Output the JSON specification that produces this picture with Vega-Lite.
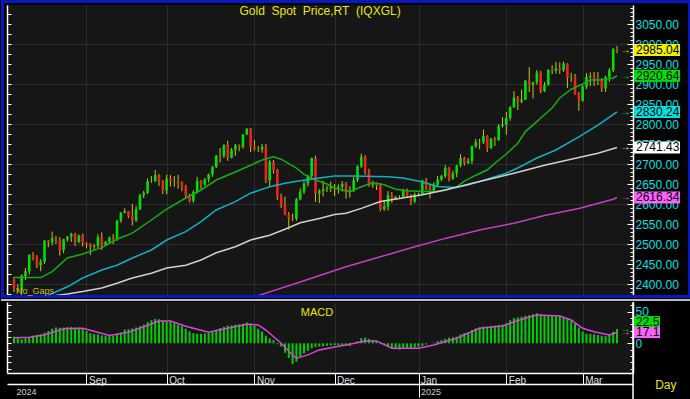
{
"$schema": "https://vega.github.io/schema/vega-lite/v6.json",
"background": "#000000",
"padding": 0,
"autosize": {"type": "pad"},
"bounds": "flush",
"spacing": 7,
"config": {"view": {"fill": "#161616", "stroke": null}, "font": "Liberation Sans", "axis": {"labelFont": "Liberation Sans"}, "scale": {"continuousPadding": 0}},
"datasets": {
"bars": [
{"i":0,"d":"2024-08-06","o":2409,"h":2418,"l":2380,"c":2390,"m":10.5},
{"i":1,"d":"2024-08-07","o":2390,"h":2400,"l":2378,"c":2383,"m":8},
{"i":2,"d":"2024-08-08","o":2383,"h":2424,"l":2367,"c":2420,"m":6.5},
{"i":3,"d":"2024-08-09","o":2420,"h":2440,"l":2410,"c":2432,"m":8},
{"i":4,"d":"2024-08-12","o":2431,"h":2475,"l":2424,"c":2472,"m":9.5},
{"i":5,"d":"2024-08-13","o":2472,"h":2480,"l":2459,"c":2466,"m":12},
{"i":6,"d":"2024-08-14","o":2466,"h":2472,"l":2440,"c":2447,"m":13.5},
{"i":7,"d":"2024-08-15","o":2447,"h":2462,"l":2432,"c":2456,"m":14.5},
{"i":8,"d":"2024-08-16","o":2456,"h":2510,"l":2450,"c":2508,"m":17},
{"i":9,"d":"2024-08-19","o":2508,"h":2510,"l":2492,"c":2504,"m":19.5},
{"i":10,"d":"2024-08-20","o":2504,"h":2531,"l":2497,"c":2514,"m":23},
{"i":11,"d":"2024-08-21","o":2514,"h":2520,"l":2500,"c":2512,"m":25},
{"i":12,"d":"2024-08-22","o":2512,"h":2517,"l":2471,"c":2485,"m":24.5},
{"i":13,"d":"2024-08-23","o":2485,"h":2513,"l":2477,"c":2512,"m":25},
{"i":14,"d":"2024-08-26","o":2512,"h":2520,"l":2506,"c":2518,"m":25.5},
{"i":15,"d":"2024-08-27","o":2518,"h":2528,"l":2505,"c":2525,"m":26},
{"i":16,"d":"2024-08-28","o":2525,"h":2528,"l":2495,"c":2505,"m":25},
{"i":17,"d":"2024-08-29","o":2505,"h":2524,"l":2502,"c":2521,"m":25},
{"i":18,"d":"2024-08-30","o":2521,"h":2526,"l":2494,"c":2503,"m":24},
{"i":19,"d":"2024-09-02","o":2503,"h":2504,"l":2489,"c":2500,"m":19.5},
{"i":20,"d":"2024-09-03","o":2500,"h":2502,"l":2472,"c":2493,"m":16},
{"i":21,"d":"2024-09-04","o":2493,"h":2500,"l":2485,"c":2495,"m":14.5},
{"i":22,"d":"2024-09-05","o":2495,"h":2524,"l":2490,"c":2517,"m":14},
{"i":23,"d":"2024-09-06","o":2517,"h":2529,"l":2485,"c":2497,"m":12.5},
{"i":24,"d":"2024-09-09","o":2497,"h":2507,"l":2495,"c":2506,"m":12},
{"i":25,"d":"2024-09-10","o":2506,"h":2519,"l":2500,"c":2516,"m":12},
{"i":26,"d":"2024-09-11","o":2516,"h":2525,"l":2500,"c":2512,"m":11.5},
{"i":27,"d":"2024-09-12","o":2512,"h":2560,"l":2508,"c":2558,"m":14.5},
{"i":28,"d":"2024-09-13","o":2558,"h":2580,"l":2553,"c":2578,"m":17},
{"i":29,"d":"2024-09-16","o":2578,"h":2589,"l":2577,"c":2582,"m":21.5},
{"i":30,"d":"2024-09-17","o":2582,"h":2582,"l":2565,"c":2569,"m":22.5},
{"i":31,"d":"2024-09-18","o":2569,"h":2600,"l":2546,"c":2559,"m":23.5},
{"i":32,"d":"2024-09-19","o":2559,"h":2595,"l":2555,"c":2587,"m":25},
{"i":33,"d":"2024-09-20","o":2587,"h":2625,"l":2585,"c":2622,"m":27},
{"i":34,"d":"2024-09-23","o":2622,"h":2633,"l":2615,"c":2628,"m":29.5},
{"i":35,"d":"2024-09-24","o":2628,"h":2664,"l":2625,"c":2657,"m":33.5},
{"i":36,"d":"2024-09-25","o":2657,"h":2670,"l":2653,"c":2657,"m":36.5},
{"i":37,"d":"2024-09-26","o":2657,"h":2685,"l":2655,"c":2672,"m":38.5},
{"i":38,"d":"2024-09-27","o":2672,"h":2675,"l":2645,"c":2658,"m":38},
{"i":39,"d":"2024-09-30","o":2658,"h":2660,"l":2625,"c":2634,"m":35.5},
{"i":40,"d":"2024-10-01","o":2634,"h":2673,"l":2624,"c":2663,"m":34.5},
{"i":41,"d":"2024-10-02","o":2663,"h":2672,"l":2644,"c":2657,"m":34},
{"i":42,"d":"2024-10-03","o":2657,"h":2670,"l":2643,"c":2656,"m":32},
{"i":43,"d":"2024-10-04","o":2656,"h":2673,"l":2638,"c":2653,"m":29.5},
{"i":44,"d":"2024-10-07","o":2653,"h":2657,"l":2632,"c":2644,"m":27},
{"i":45,"d":"2024-10-08","o":2644,"h":2648,"l":2615,"c":2622,"m":23},
{"i":46,"d":"2024-10-09","o":2622,"h":2625,"l":2604,"c":2608,"m":19},
{"i":47,"d":"2024-10-10","o":2608,"h":2634,"l":2603,"c":2630,"m":16},
{"i":48,"d":"2024-10-11","o":2630,"h":2668,"l":2626,"c":2657,"m":15},
{"i":49,"d":"2024-10-14","o":2657,"h":2660,"l":2638,"c":2649,"m":15},
{"i":50,"d":"2024-10-15","o":2649,"h":2665,"l":2645,"c":2662,"m":15.5},
{"i":51,"d":"2024-10-16","o":2662,"h":2676,"l":2654,"c":2674,"m":16.5},
{"i":52,"d":"2024-10-17","o":2674,"h":2695,"l":2668,"c":2692,"m":18},
{"i":53,"d":"2024-10-18","o":2692,"h":2722,"l":2690,"c":2721,"m":21.5},
{"i":54,"d":"2024-10-21","o":2721,"h":2740,"l":2704,"c":2720,"m":24},
{"i":55,"d":"2024-10-22","o":2720,"h":2749,"l":2715,"c":2748,"m":26},
{"i":56,"d":"2024-10-23","o":2748,"h":2758,"l":2708,"c":2715,"m":28},
{"i":57,"d":"2024-10-24","o":2715,"h":2740,"l":2714,"c":2736,"m":28.5},
{"i":58,"d":"2024-10-25","o":2736,"h":2750,"l":2720,"c":2747,"m":29.5},
{"i":59,"d":"2024-10-28","o":2747,"h":2749,"l":2732,"c":2743,"m":30},
{"i":60,"d":"2024-10-29","o":2743,"h":2775,"l":2738,"c":2774,"m":31},
{"i":61,"d":"2024-10-30","o":2774,"h":2790,"l":2772,"c":2788,"m":33},
{"i":62,"d":"2024-10-31","o":2788,"h":2790,"l":2730,"c":2744,"m":31.5},
{"i":63,"d":"2024-11-01","o":2744,"h":2760,"l":2733,"c":2736,"m":28},
{"i":64,"d":"2024-11-04","o":2736,"h":2745,"l":2730,"c":2736,"m":23},
{"i":65,"d":"2024-11-05","o":2736,"h":2750,"l":2728,"c":2743,"m":18.5},
{"i":66,"d":"2024-11-06","o":2743,"h":2750,"l":2652,"c":2659,"m":12},
{"i":67,"d":"2024-11-07","o":2659,"h":2710,"l":2643,"c":2706,"m":7.5},
{"i":68,"d":"2024-11-08","o":2706,"h":2710,"l":2676,"c":2685,"m":5},
{"i":69,"d":"2024-11-11","o":2685,"h":2688,"l":2610,"c":2619,"m":-1.5},
{"i":70,"d":"2024-11-12","o":2619,"h":2626,"l":2590,"c":2598,"m":-5},
{"i":71,"d":"2024-11-13","o":2598,"h":2618,"l":2572,"c":2573,"m":-15},
{"i":72,"d":"2024-11-14","o":2573,"h":2580,"l":2536,"c":2565,"m":-23},
{"i":73,"d":"2024-11-15","o":2565,"h":2576,"l":2557,"c":2563,"m":-33},
{"i":74,"d":"2024-11-18","o":2563,"h":2615,"l":2558,"c":2612,"m":-29},
{"i":75,"d":"2024-11-19","o":2612,"h":2639,"l":2609,"c":2631,"m":-21},
{"i":76,"d":"2024-11-20","o":2631,"h":2657,"l":2625,"c":2651,"m":-16},
{"i":77,"d":"2024-11-21","o":2651,"h":2673,"l":2644,"c":2670,"m":-12},
{"i":78,"d":"2024-11-22","o":2670,"h":2716,"l":2662,"c":2715,"m":-8},
{"i":79,"d":"2024-11-25","o":2715,"h":2721,"l":2605,"c":2626,"m":-5.5},
{"i":80,"d":"2024-11-26","o":2626,"h":2637,"l":2602,"c":2633,"m":-5},
{"i":81,"d":"2024-11-27","o":2633,"h":2658,"l":2619,"c":2637,"m":-4.5},
{"i":82,"d":"2024-11-28","o":2637,"h":2645,"l":2630,"c":2639,"m":-4},
{"i":83,"d":"2024-11-29","o":2639,"h":2656,"l":2630,"c":2643,"m":-3.5},
{"i":84,"d":"2024-12-02","o":2643,"h":2650,"l":2620,"c":2640,"m":-3},
{"i":85,"d":"2024-12-03","o":2640,"h":2649,"l":2626,"c":2643,"m":-3},
{"i":86,"d":"2024-12-04","o":2643,"h":2657,"l":2631,"c":2650,"m":-3.5},
{"i":87,"d":"2024-12-05","o":2650,"h":2655,"l":2613,"c":2632,"m":-4},
{"i":88,"d":"2024-12-06","o":2632,"h":2644,"l":2616,"c":2633,"m":-4.5},
{"i":89,"d":"2024-12-09","o":2633,"h":2668,"l":2630,"c":2660,"m":-1},
{"i":90,"d":"2024-12-10","o":2660,"h":2697,"l":2655,"c":2694,"m":3},
{"i":91,"d":"2024-12-11","o":2694,"h":2726,"l":2690,"c":2718,"m":8},
{"i":92,"d":"2024-12-12","o":2718,"h":2722,"l":2673,"c":2681,"m":9},
{"i":93,"d":"2024-12-13","o":2681,"h":2688,"l":2643,"c":2648,"m":7},
{"i":94,"d":"2024-12-16","o":2648,"h":2658,"l":2640,"c":2652,"m":5.5},
{"i":95,"d":"2024-12-17","o":2652,"h":2654,"l":2635,"c":2646,"m":4},
{"i":96,"d":"2024-12-18","o":2646,"h":2652,"l":2582,"c":2587,"m":-1.5},
{"i":97,"d":"2024-12-19","o":2587,"h":2609,"l":2583,"c":2594,"m":-3},
{"i":98,"d":"2024-12-20","o":2594,"h":2632,"l":2584,"c":2622,"m":-5},
{"i":99,"d":"2024-12-23","o":2622,"h":2630,"l":2603,"c":2612,"m":-7},
{"i":100,"d":"2024-12-24","o":2612,"h":2620,"l":2610,"c":2618,"m":-9},
{"i":101,"d":"2024-12-25","o":2618,"h":2622,"l":2615,"c":2618,"m":-10},
{"i":102,"d":"2024-12-26","o":2618,"h":2638,"l":2614,"c":2634,"m":-9},
{"i":103,"d":"2024-12-27","o":2634,"h":2639,"l":2616,"c":2621,"m":-8},
{"i":104,"d":"2024-12-30","o":2621,"h":2625,"l":2597,"c":2606,"m":-8.5},
{"i":105,"d":"2024-12-31","o":2606,"h":2629,"l":2602,"c":2624,"m":-7},
{"i":106,"d":"2025-01-01","o":2624,"h":2628,"l":2620,"c":2624,"m":-5.5},
{"i":107,"d":"2025-01-02","o":2624,"h":2661,"l":2622,"c":2658,"m":-4},
{"i":108,"d":"2025-01-03","o":2658,"h":2665,"l":2635,"c":2640,"m":-2},
{"i":109,"d":"2025-01-06","o":2640,"h":2650,"l":2614,"c":2635,"m":0},
{"i":110,"d":"2025-01-07","o":2635,"h":2654,"l":2630,"c":2648,"m":1},
{"i":111,"d":"2025-01-08","o":2648,"h":2670,"l":2645,"c":2661,"m":3.5},
{"i":112,"d":"2025-01-09","o":2661,"h":2673,"l":2657,"c":2670,"m":5},
{"i":113,"d":"2025-01-10","o":2670,"h":2697,"l":2665,"c":2690,"m":7},
{"i":114,"d":"2025-01-13","o":2690,"h":2693,"l":2656,"c":2663,"m":9},
{"i":115,"d":"2025-01-14","o":2663,"h":2683,"l":2660,"c":2677,"m":9.5},
{"i":116,"d":"2025-01-15","o":2677,"h":2698,"l":2667,"c":2696,"m":10.5},
{"i":117,"d":"2025-01-16","o":2696,"h":2724,"l":2692,"c":2715,"m":14},
{"i":118,"d":"2025-01-17","o":2715,"h":2718,"l":2696,"c":2702,"m":16.5},
{"i":119,"d":"2025-01-20","o":2702,"h":2715,"l":2700,"c":2708,"m":17.5},
{"i":120,"d":"2025-01-21","o":2708,"h":2746,"l":2700,"c":2744,"m":21},
{"i":121,"d":"2025-01-22","o":2744,"h":2763,"l":2740,"c":2755,"m":23.5},
{"i":122,"d":"2025-01-23","o":2755,"h":2763,"l":2737,"c":2754,"m":25},
{"i":123,"d":"2025-01-24","o":2754,"h":2786,"l":2750,"c":2770,"m":26.5},
{"i":124,"d":"2025-01-27","o":2770,"h":2772,"l":2730,"c":2740,"m":26.5},
{"i":125,"d":"2025-01-28","o":2740,"h":2765,"l":2737,"c":2763,"m":27.5},
{"i":126,"d":"2025-01-29","o":2763,"h":2768,"l":2745,"c":2760,"m":28},
{"i":127,"d":"2025-01-30","o":2760,"h":2800,"l":2758,"c":2795,"m":29},
{"i":128,"d":"2025-01-31","o":2795,"h":2817,"l":2791,"c":2798,"m":29.5},
{"i":129,"d":"2025-02-03","o":2798,"h":2830,"l":2773,"c":2815,"m":31.5},
{"i":130,"d":"2025-02-04","o":2815,"h":2845,"l":2808,"c":2842,"m":36.5},
{"i":131,"d":"2025-02-05","o":2842,"h":2882,"l":2840,"c":2866,"m":39.5},
{"i":132,"d":"2025-02-06","o":2866,"h":2870,"l":2835,"c":2856,"m":41},
{"i":133,"d":"2025-02-07","o":2856,"h":2886,"l":2852,"c":2861,"m":42},
{"i":134,"d":"2025-02-10","o":2861,"h":2910,"l":2860,"c":2908,"m":43.5},
{"i":135,"d":"2025-02-11","o":2908,"h":2942,"l":2880,"c":2898,"m":44.5},
{"i":136,"d":"2025-02-12","o":2898,"h":2906,"l":2864,"c":2904,"m":46},
{"i":137,"d":"2025-02-13","o":2904,"h":2935,"l":2898,"c":2928,"m":47.5},
{"i":138,"d":"2025-02-14","o":2928,"h":2933,"l":2877,"c":2882,"m":46},
{"i":139,"d":"2025-02-17","o":2882,"h":2905,"l":2880,"c":2898,"m":45},
{"i":140,"d":"2025-02-18","o":2898,"h":2937,"l":2896,"c":2935,"m":44},
{"i":141,"d":"2025-02-19","o":2935,"h":2947,"l":2925,"c":2933,"m":43.5},
{"i":142,"d":"2025-02-20","o":2933,"h":2955,"l":2926,"c":2939,"m":43},
{"i":143,"d":"2025-02-21","o":2939,"h":2954,"l":2925,"c":2935,"m":43},
{"i":144,"d":"2025-02-24","o":2935,"h":2956,"l":2930,"c":2951,"m":42},
{"i":145,"d":"2025-02-25","o":2951,"h":2952,"l":2890,"c":2915,"m":39.5},
{"i":146,"d":"2025-02-26","o":2915,"h":2928,"l":2905,"c":2916,"m":36},
{"i":147,"d":"2025-02-27","o":2916,"h":2925,"l":2873,"c":2875,"m":31},
{"i":148,"d":"2025-02-28","o":2875,"h":2880,"l":2833,"c":2858,"m":25},
{"i":149,"d":"2025-03-03","o":2858,"h":2897,"l":2856,"c":2893,"m":18.5},
{"i":150,"d":"2025-03-04","o":2893,"h":2927,"l":2887,"c":2918,"m":15},
{"i":151,"d":"2025-03-05","o":2918,"h":2929,"l":2895,"c":2920,"m":14.8},
{"i":152,"d":"2025-03-06","o":2920,"h":2930,"l":2895,"c":2910,"m":14.2},
{"i":153,"d":"2025-03-07","o":2910,"h":2930,"l":2897,"c":2910,"m":13},
{"i":154,"d":"2025-03-10","o":2910,"h":2915,"l":2880,"c":2889,"m":12},
{"i":155,"d":"2025-03-11","o":2889,"h":2921,"l":2880,"c":2917,"m":11.5},
{"i":156,"d":"2025-03-12","o":2917,"h":2940,"l":2905,"c":2934,"m":14.2},
{"i":157,"d":"2025-03-13","o":2934,"h":2990,"l":2930,"c":2987,"m":18.4},
{"i":158,"d":"2025-03-14","o":2987,"h":2995,"l":2977,"c":2985.04,"m":22.5}
],
"ma": [
{"k":"a","i":0,"v":2416},{"k":"a","i":7,"v":2416},{"k":"a","i":10,"v":2431},{"k":"a","i":14,"v":2465},{"k":"a","i":18,"v":2475},{"k":"a","i":23,"v":2491},{"k":"a","i":27,"v":2512},{"k":"a","i":31,"v":2527},{"k":"a","i":36,"v":2560},{"k":"a","i":40,"v":2587},{"k":"a","i":45,"v":2615},{"k":"a","i":49,"v":2635},{"k":"a","i":53,"v":2660},{"k":"a","i":58,"v":2680},{"k":"a","i":62,"v":2697},{"k":"a","i":65,"v":2710},{"k":"a","i":68,"v":2718},{"k":"a","i":70,"v":2712},{"k":"a","i":74,"v":2690},{"k":"a","i":76,"v":2674},{"k":"a","i":79,"v":2660},{"k":"a","i":82,"v":2650},{"k":"a","i":84,"v":2640},{"k":"a","i":86,"v":2635},{"k":"a","i":88,"v":2631},{"k":"a","i":91,"v":2643},{"k":"a","i":94,"v":2653},{"k":"a","i":97,"v":2648},{"k":"a","i":100,"v":2637},{"k":"a","i":103,"v":2633},{"k":"a","i":107,"v":2631},{"k":"a","i":111,"v":2631},{"k":"a","i":113,"v":2635},{"k":"a","i":116,"v":2643},{"k":"a","i":118,"v":2657},{"k":"a","i":121,"v":2672},{"k":"a","i":124,"v":2685},{"k":"a","i":126,"v":2702},{"k":"a","i":129,"v":2725},{"k":"a","i":132,"v":2752},{"k":"a","i":134,"v":2781},{"k":"a","i":137,"v":2806},{"k":"a","i":138,"v":2815},{"k":"a","i":141,"v":2840},{"k":"a","i":143,"v":2865},{"k":"a","i":146,"v":2887},{"k":"a","i":149,"v":2900},{"k":"a","i":151,"v":2910},{"k":"a","i":154,"v":2910},{"k":"a","i":157,"v":2915},{"k":"a","i":158,"v":2920.64},
{"k":"b","i":8,"v":2368},{"k":"b","i":14,"v":2393},{"k":"b","i":18,"v":2415},{"k":"b","i":23,"v":2435},{"k":"b","i":27,"v":2447},{"k":"b","i":31,"v":2465},{"k":"b","i":36,"v":2485},{"k":"b","i":40,"v":2510},{"k":"b","i":45,"v":2531},{"k":"b","i":49,"v":2556},{"k":"b","i":53,"v":2585},{"k":"b","i":58,"v":2606},{"k":"b","i":62,"v":2627},{"k":"b","i":67,"v":2643},{"k":"b","i":71,"v":2652},{"k":"b","i":75,"v":2658},{"k":"b","i":80,"v":2665},{"k":"b","i":84,"v":2670},{"k":"b","i":89,"v":2670},{"k":"b","i":98,"v":2668},{"k":"b","i":102,"v":2665},{"k":"b","i":107,"v":2655},{"k":"b","i":111,"v":2644},{"k":"b","i":116,"v":2641},{"k":"b","i":119,"v":2648},{"k":"b","i":122,"v":2656},{"k":"b","i":125,"v":2665},{"k":"b","i":129,"v":2677},{"k":"b","i":132,"v":2690},{"k":"b","i":137,"v":2715},{"k":"b","i":142,"v":2735},{"k":"b","i":148,"v":2768},{"k":"b","i":153,"v":2797},{"k":"b","i":158,"v":2830.24},
{"k":"c","i":10,"v":2370},{"k":"c","i":14,"v":2375},{"k":"c","i":18,"v":2381},{"k":"c","i":23,"v":2390},{"k":"c","i":27,"v":2402},{"k":"c","i":31,"v":2415},{"k":"c","i":36,"v":2427},{"k":"c","i":40,"v":2440},{"k":"c","i":45,"v":2447},{"k":"c","i":49,"v":2460},{"k":"c","i":53,"v":2478},{"k":"c","i":58,"v":2493},{"k":"c","i":62,"v":2510},{"k":"c","i":67,"v":2522},{"k":"c","i":71,"v":2537},{"k":"c","i":75,"v":2553},{"k":"c","i":80,"v":2564},{"k":"c","i":84,"v":2574},{"k":"c","i":87,"v":2577},{"k":"c","i":91,"v":2589},{"k":"c","i":96,"v":2606},{"k":"c","i":101,"v":2614},{"k":"c","i":105,"v":2620},{"k":"c","i":107,"v":2623},{"k":"c","i":113,"v":2635},{"k":"c","i":122,"v":2656},{"k":"c","i":131,"v":2677},{"k":"c","i":139,"v":2697},{"k":"c","i":148,"v":2716},{"k":"c","i":153,"v":2727},{"k":"c","i":158,"v":2741.43},
{"k":"d","i":63,"v":2368},{"k":"d","i":75,"v":2405},{"k":"d","i":87,"v":2443},{"k":"d","i":96,"v":2468},{"k":"d","i":105,"v":2493},{"k":"d","i":113,"v":2514},{"k":"d","i":122,"v":2535},{"k":"d","i":131,"v":2552},{"k":"d","i":139,"v":2571},{"k":"d","i":148,"v":2589},{"k":"d","i":157,"v":2612},{"k":"d","i":158,"v":2616.34}
],
"sig": [
{"i":0,"s":8.9},{"i":4,"s":9.5},{"i":8,"s":13},{"i":13,"s":23},{"i":18,"s":23.7},{"i":21,"s":19},{"i":25,"s":12.5},{"i":30,"s":17.4},{"i":33,"s":23.7},{"i":38,"s":35.3},{"i":41,"s":35.3},{"i":45,"s":27},{"i":51,"s":17.4},{"i":56,"s":23.7},{"i":61,"s":30},{"i":64,"s":29},{"i":66,"s":21},{"i":70,"s":0},{"i":73,"s":-18.4},{"i":74,"s":-23.7},{"i":77,"s":-18.4},{"i":80,"s":-10.5},{"i":84,"s":-6},{"i":87,"s":-2.6},{"i":92,"s":3.7},{"i":95,"s":3.7},{"i":99,"s":-7.9},{"i":106,"s":-7.9},{"i":110,"s":-2.6},{"i":116,"s":7.9},{"i":122,"s":23.7},{"i":128,"s":27.4},{"i":130,"s":31.6},{"i":134,"s":39.5},{"i":137,"s":44.7},{"i":143,"s":43.2},{"i":146,"s":36.8},{"i":149,"s":23.7},{"i":152,"s":18.4},{"i":156,"s":13.1},{"i":158,"s":17.1}
],
"tags": [
{"k":"p","i":158,"v":2985.04},{"k":"a","i":158,"v":2920.64},{"k":"b","i":158,"v":2830.24},{"k":"c","i":158,"v":2741.43},{"k":"d","i":158,"v":2616.34}
],
"mtags": [
{"k":"m","i":158,"v":22.5},{"k":"s","i":158,"v":17.1}
],
"one": [{}]
},
"vconcat": [
{
"width": 626, "height": 290,
"layer": [
{
"data": {"name": "one"},
"mark": {"type": "rect", "fill": "transparent", "stroke": "#0818c0", "strokeWidth": 3, "xOffset": -4.5, "x2Offset": 56.5, "yOffset": -3.5, "y2Offset": 1.5},
"encoding": {
"x": {"datum": -1.83, "type": "quantitative", "scale": {"domain": [-1.83, 162.19], "nice": false, "zero": false, "padding": 0}, "axis": null},
"x2": {"datum": 162.19},
"y": {"datum": 3097.5, "type": "quantitative", "scale": {"domain": [2372.5, 3097.5], "nice": false, "zero": false}, "axis": null},
"y2": {"datum": 2372.5}
}
},
{
"data": {"name": "bars"},
"mark": {"type": "rule", "color": "#c8c800", "strokeWidth": 1, "clip": true},
"encoding": {
"x": {"field": "i", "type": "quantitative", "scale": {"domain": [-1.83, 162.19], "nice": false, "zero": false, "padding": 0}, "axis": {"values": [19, 40, 63, 84, 106, 129, 149], "grid": true, "gridColor": "#2c2c2c", "labels": false, "ticks": false, "domain": false, "title": null}},
"y": {"field": "l", "type": "quantitative", "scale": {"domain": [2372.5, 3097.5], "nice": false, "zero": false}, "axis": {"orient": "left", "values": [2400, 2500, 2600, 2700, 2800, 2900, 3000], "grid": true, "gridColor": "#2c2c2c", "labels": false, "ticks": false, "domain": false, "title": null}},
"y2": {"field": "h"}
}
},
{
"data": {"name": "bars"},
"mark": {"type": "bar", "width": 2.6, "clip": true},
"encoding": {
"x": {"field": "i", "type": "quantitative", "scale": {"domain": [-1.83, 162.19], "nice": false, "zero": false, "padding": 0}, "axis": null},
"y": {"field": "o", "type": "quantitative", "scale": {"domain": [2372.5, 3097.5], "nice": false, "zero": false}, "axis": {"orient": "left", "values": [2375,2400,2425,2450,2475,2500,2525,2550,2575,2600,2625,2650,2675,2700,2725,2750,2775,2800,2825,2850,2875,2900,2925,2950,2975,3000,3025,3050,3075], "labels": false, "tickSize": -4, "tickColor": "#ffffff", "domainColor": "#ffffff", "domainWidth": 1.5, "grid": false, "title": null}},
"y2": {"field": "c"},
"color": {"condition": {"test": "datum.c >= datum.o", "value": "#00e000"}, "value": "#f02020"}
}
},
{
"data": {"name": "ma"},
"mark": {"type": "line", "strokeWidth": 1.5, "clip": true},
"encoding": {
"x": {"field": "i", "type": "quantitative", "scale": {"domain": [-1.83, 162.19], "nice": false, "zero": false, "padding": 0}, "axis": null},
"y": {"field": "v", "type": "quantitative", "scale": {"domain": [2372.5, 3097.5], "nice": false, "zero": false}, "axis": {"orient": "right", "tickCount": 80, "labelExpr": "datum.value % 50 === 0 ? format(datum.value, '.2f') : ''", "tickSize": {"condition": {"test": "datum.value % 50 === 0", "value": -6}, "value": -3}, "labelPadding": 8, "labelColor": "#00e0e0", "labelFontSize": 12, "tickColor": "#ffffff", "domainColor": "#ffffff", "domainWidth": 1.5, "grid": false, "title": null, "labelOverlap": false, "labelFlush": false}},
"color": {"field": "k", "type": "nominal", "scale": {"domain": ["a", "b", "c", "d"], "range": ["#10b010", "#10b0c0", "#d0d0d0", "#c040c0"]}, "legend": null}
}
},
{
"data": {"name": "tags"},
"mark": {"type": "rect", "xOffset": 17, "x2Offset": 63, "yOffset": -6, "y2Offset": 6},
"encoding": {
"x": {"field": "i", "type": "quantitative", "scale": {"domain": [-1.83, 162.19], "nice": false, "zero": false, "padding": 0}, "axis": null},
"x2": {"field": "i"},
"y": {"field": "v", "type": "quantitative", "scale": {"domain": [2372.5, 3097.5], "nice": false, "zero": false}, "axis": null},
"y2": {"field": "v"},
"fill": {"field": "k", "type": "nominal", "scale": {"domain": ["p", "a", "b", "c", "d"], "range": ["#f0f000", "#00e000", "#00e0e0", "#ffffff", "#ff60ff"]}, "legend": null}
}
},
{
"data": {"name": "tags"},
"mark": {"type": "text", "align": "left", "baseline": "middle", "dx": 19, "fontSize": 12, "color": "#000000"},
"encoding": {
"x": {"field": "i", "type": "quantitative", "scale": {"domain": [-1.83, 162.19], "nice": false, "zero": false, "padding": 0}, "axis": null},
"y": {"field": "v", "type": "quantitative", "scale": {"domain": [2372.5, 3097.5], "nice": false, "zero": false}, "axis": null},
"text": {"field": "v", "format": ".2f"}
}
},
{
"data": {"name": "tags"},
"mark": {"type": "text", "text": "→", "align": "center", "baseline": "middle", "dx": 8.5, "fontSize": 10},
"encoding": {
"x": {"field": "i", "type": "quantitative", "scale": {"domain": [-1.83, 162.19], "nice": false, "zero": false, "padding": 0}, "axis": null},
"y": {"field": "v", "type": "quantitative", "scale": {"domain": [2372.5, 3097.5], "nice": false, "zero": false}, "axis": null},
"fill": {"field": "k", "type": "nominal", "scale": {"domain": ["p", "a", "b", "c", "d"], "range": ["#f0f000", "#00e000", "#00e0e0", "#ffffff", "#ff60ff"]}, "legend": null}
}
},
{
"data": {"name": "one"},
"mark": {"type": "text", "text": "Gold\u00a0 Spot\u00a0 Price,RT\u00a0 (IQXGL)", "color": "#e8e800", "fontSize": 12, "align": "center", "baseline": "alphabetic"},
"encoding": {
"x": {"datum": 80.2, "type": "quantitative", "scale": {"domain": [-1.83, 162.19], "nice": false, "zero": false, "padding": 0}, "axis": null},
"y": {"datum": 3072.5, "type": "quantitative", "scale": {"domain": [2372.5, 3097.5], "nice": false, "zero": false}, "axis": null}
}
},
{
"data": {"name": "one"},
"mark": {"type": "text", "text": "No_Gaps", "color": "#c8c000", "fontSize": 9, "align": "left", "baseline": "alphabetic"},
"encoding": {
"x": {"datum": 0.5, "type": "quantitative", "scale": {"domain": [-1.83, 162.19], "nice": false, "zero": false, "padding": 0}, "axis": null},
"y": {"datum": 2375, "type": "quantitative", "scale": {"domain": [2372.5, 3097.5], "nice": false, "zero": false}, "axis": null}
}
}
],
"resolve": {"axis": {"x": "independent", "y": "independent"}}
},
{
"width": 626, "height": 71,
"layer": [
{
"data": {"name": "one"},
"mark": {"type": "rule", "color": "#bcbcbc", "strokeWidth": 2, "xOffset": -6, "x2Offset": 58, "yOffset": -2},
"encoding": {
"x": {"datum": -1.83, "type": "quantitative", "scale": {"domain": [-1.83, 162.19], "nice": false, "zero": false, "padding": 0}, "axis": null},
"x2": {"datum": 162.19},
"y": {"datum": 65.3, "type": "quantitative", "scale": {"domain": [-47, 65.3], "nice": false, "zero": false}, "axis": null}
}
},
{
"data": {"name": "bars"},
"mark": {"type": "bar", "width": 2, "color": "#00d000"},
"encoding": {
"x": {"field": "i", "type": "quantitative", "scale": {"domain": [-1.83, 162.19], "nice": false, "zero": false, "padding": 0}, "axis": {"orient": "bottom", "values": [19, 40, 63, 84, 106, 129, 149], "grid": true, "gridColor": "#2c2c2c", "tickSize": 11, "tickColor": "#ffffff", "domainColor": "#ffffff", "domainWidth": 1.5, "labelExpr": "datum.value == 19 ? 'Sep' : datum.value == 40 ? 'Oct' : datum.value == 63 ? 'Nov' : datum.value == 84 ? 'Dec' : datum.value == 106 ? 'Jan' : datum.value == 129 ? 'Feb' : 'Mar'", "labelAlign": "left", "labelOffset": 2, "labelPadding": -9, "labelBaseline": "top", "labelColor": "#e0e0e0", "labelFontSize": 10, "labelOverlap": false, "labelFlush": false, "title": null}},
"y": {"field": "m", "type": "quantitative", "scale": {"domain": [-47, 65.3], "nice": false, "zero": false}, "axis": {"orient": "left", "tickCount": 12, "labels": false, "tickSize": -4, "tickColor": "#ffffff", "domainColor": "#ffffff", "domainWidth": 1.5, "grid": false, "title": null}},
"y2": {"datum": 0}
}
},
{
"data": {"name": "sig"},
"mark": {"type": "line", "color": "#e040e0", "strokeWidth": 1.5},
"encoding": {
"x": {"field": "i", "type": "quantitative", "scale": {"domain": [-1.83, 162.19], "nice": false, "zero": false, "padding": 0}, "axis": {"orient": "bottom", "offset": 11, "values": [0, 106], "labelExpr": "datum.value < 50 ? '2024' : '2025'", "tickSize": 13, "tickColor": {"condition": {"test": "datum.value < 50", "value": "transparent"}, "value": "#ffffff"}, "domainColor": "#ffffff", "domainWidth": 1.5, "labelAlign": "left", "labelOffset": 2, "labelPadding": -10, "labelBaseline": "top", "labelColor": "#d0d0d0", "labelFontSize": 9, "grid": false, "title": null, "labelOverlap": false, "labelFlush": false}},
"y": {"field": "s", "type": "quantitative", "scale": {"domain": [-47, 65.3], "nice": false, "zero": false}, "axis": {"orient": "right", "tickCount": 12, "labelExpr": "datum.value === 0 || datum.value === 50 ? datum.label : ''", "tickSize": {"condition": {"test": "datum.value % 50 === 0", "value": -6}, "value": -3}, "labelPadding": 8, "labelColor": "#00e0e0", "labelFontSize": 12, "tickColor": "#ffffff", "domainColor": "#ffffff", "domainWidth": 1.5, "grid": false, "title": null, "labelOverlap": false, "labelFlush": false}}
}
},
{
"data": {"name": "one"},
"mark": {"type": "rule", "color": "#ffffff", "strokeWidth": 1.5, "y2Offset": 26},
"encoding": {
"x": {"datum": 162.19, "type": "quantitative", "scale": {"domain": [-1.83, 162.19], "nice": false, "zero": false, "padding": 0}, "axis": null},
"y": {"datum": 65.3, "type": "quantitative", "scale": {"domain": [-47, 65.3], "nice": false, "zero": false}, "axis": null},
"y2": {"datum": -47}
}
},
{
"data": {"name": "mtags"},
"transform": [{"filter": "datum.k == 'm'"}],
"layer": [
{"mark": {"type": "rect", "color": "#00e000", "xOffset": 17, "x2Offset": 43, "yOffset": -13, "y2Offset": -2},
"encoding": {"x": {"field": "i", "type": "quantitative", "scale": {"domain": [-1.83, 162.19], "nice": false, "zero": false, "padding": 0}, "axis": null}, "x2": {"field": "i"}, "y": {"field": "v", "type": "quantitative", "scale": {"domain": [-47, 65.3], "nice": false, "zero": false}, "axis": null}, "y2": {"field": "v"}}},
{"mark": {"type": "text", "align": "left", "baseline": "middle", "dx": 19, "dy": -7.5, "fontSize": 12, "color": "#000000"},
"encoding": {"x": {"field": "i", "type": "quantitative", "scale": {"domain": [-1.83, 162.19], "nice": false, "zero": false, "padding": 0}, "axis": null}, "y": {"field": "v", "type": "quantitative", "scale": {"domain": [-47, 65.3], "nice": false, "zero": false}, "axis": null}, "text": {"field": "v", "format": ".1f"}}},
{"mark": {"type": "text", "text": "→", "align": "center", "baseline": "middle", "dx": 8.5, "fontSize": 10, "color": "#00e000"},
"encoding": {"x": {"field": "i", "type": "quantitative", "scale": {"domain": [-1.83, 162.19], "nice": false, "zero": false, "padding": 0}, "axis": null}, "y": {"field": "v", "type": "quantitative", "scale": {"domain": [-47, 65.3], "nice": false, "zero": false}, "axis": null}}}
]
},
{
"data": {"name": "mtags"},
"transform": [{"filter": "datum.k == 's'"}],
"layer": [
{"mark": {"type": "rect", "color": "#ff60ff", "xOffset": 17, "x2Offset": 43, "yOffset": -5.5, "y2Offset": 5.5},
"encoding": {"x": {"field": "i", "type": "quantitative", "scale": {"domain": [-1.83, 162.19], "nice": false, "zero": false, "padding": 0}, "axis": null}, "x2": {"field": "i"}, "y": {"field": "v", "type": "quantitative", "scale": {"domain": [-47, 65.3], "nice": false, "zero": false}, "axis": null}, "y2": {"field": "v"}}},
{"mark": {"type": "text", "align": "left", "baseline": "middle", "dx": 19, "fontSize": 12, "color": "#000000"},
"encoding": {"x": {"field": "i", "type": "quantitative", "scale": {"domain": [-1.83, 162.19], "nice": false, "zero": false, "padding": 0}, "axis": null}, "y": {"field": "v", "type": "quantitative", "scale": {"domain": [-47, 65.3], "nice": false, "zero": false}, "axis": null}, "text": {"field": "v", "format": ".1f"}}},
{"mark": {"type": "text", "text": "→", "align": "center", "baseline": "middle", "dx": 8.5, "fontSize": 10, "color": "#ff60ff"},
"encoding": {"x": {"field": "i", "type": "quantitative", "scale": {"domain": [-1.83, 162.19], "nice": false, "zero": false, "padding": 0}, "axis": null}, "y": {"field": "v", "type": "quantitative", "scale": {"domain": [-47, 65.3], "nice": false, "zero": false}, "axis": null}}}
]
},
{
"data": {"name": "one"},
"mark": {"type": "text", "text": "MACD", "color": "#e6e600", "fontSize": 11, "align": "center", "baseline": "alphabetic"},
"encoding": {
"x": {"datum": 79.4, "type": "quantitative", "scale": {"domain": [-1.83, 162.19], "nice": false, "zero": false, "padding": 0}, "axis": null},
"y": {"datum": 43.2, "type": "quantitative", "scale": {"domain": [-47, 65.3], "nice": false, "zero": false}, "axis": null}
}
},
{
"data": {"name": "one"},
"mark": {"type": "text", "text": "Day", "color": "#e6e600", "fontSize": 12, "align": "center", "baseline": "alphabetic"},
"encoding": {
"x": {"datum": 170.8, "type": "quantitative", "scale": {"domain": [-1.83, 162.19], "nice": false, "zero": false, "padding": 0}, "axis": null},
"y": {"datum": -72.3, "type": "quantitative", "scale": {"domain": [-47, 65.3], "nice": false, "zero": false}, "axis": null}
}
}
],
"resolve": {"axis": {"x": "independent", "y": "independent"}}
}
]
}
